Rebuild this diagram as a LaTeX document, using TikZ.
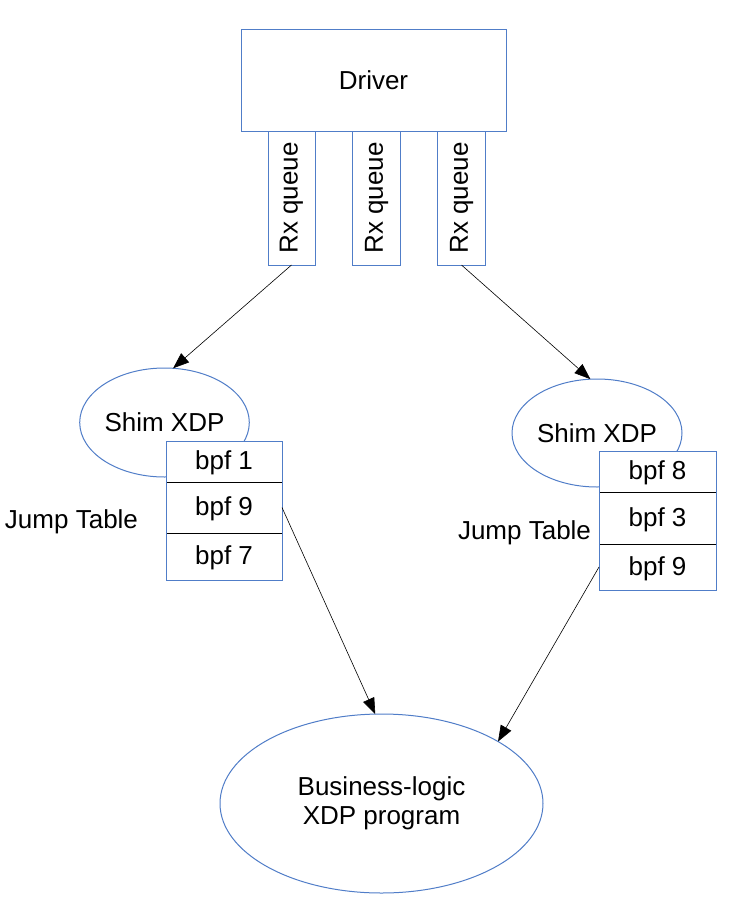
\documentclass[tikz,border=0pt]{standalone}
\usepackage{fontspec}
\setmainfont{Liberation Sans}
\usepackage{graphicx}
\usetikzlibrary{arrows.meta, shapes.geometric}
\definecolor{lineblue}{RGB}{80,125,200}
\begin{document}
\begin{tikzpicture}[
    x=1pt, y=-1pt,
    every node/.style={font=\fontsize{26}{29}\selectfont, inner sep=0pt, outer sep=0pt},
    box/.style={draw=lineblue, line width=1pt, fill=white, rectangle, align=center},
    oval/.style={draw=lineblue, line width=1pt, fill=white, ellipse, align=center},
    cell/.style={draw=black, line width=1pt, fill=white, rectangle, text depth=2pt},
    arrow/.style={-{Triangle[length=16pt,width=12pt]}, line width=0.6pt, black}
]
\useasboundingbox (0,0) rectangle (743,918);

% Driver e filas
\node[box, minimum width=265, minimum height=102] (driver) at (373.5,80) {Driver};
\node[box, minimum width=47, minimum height=134] (rxa) at (291.5,198) {\rotatebox{90}{Rx queue}};
\node[box, minimum width=48, minimum height=134] (rxb) at (376.5,198) {\rotatebox{90}{Rx queue}};
\node[box, minimum width=48, minimum height=134] (rxc) at (461.5,198) {\rotatebox{90}{Rx queue}};

% Shims
\node[oval, minimum width=169, minimum height=109] (shiml) at (164.5,422.5) {Shim XDP};
\node[oval, minimum width=170, minimum height=108] (shimr) at (597,433) {Shim XDP};

% Tabelas
\node[cell, minimum width=116, minimum height=41] (tla) at (224,461.5) {bpf 1};
\node[cell, minimum width=116, minimum height=51] (tlb) at (224,507.5) {bpf 9};
\node[cell, minimum width=116, minimum height=47] (tlc) at (224,556.5) {bpf 7};
\draw[lineblue, line width=1pt] (tla.north west) rectangle (tlc.south east);
\node[cell, minimum width=117, minimum height=41] (tra) at (657.5,471.5) {bpf 8};
\node[cell, minimum width=117, minimum height=52] (trb) at (657.5,518) {bpf 3};
\node[cell, minimum width=117, minimum height=46] (trc) at (657.5,567) {bpf 9};
\draw[lineblue, line width=1pt] (tra.north west) rectangle (trc.south east);
\node[anchor=west] (jtl) at (5,522) {Jump Table};
\node[anchor=west] (jtr) at (458,533) {Jump Table};

% Programa
\node[oval, minimum width=323, minimum height=179] (biz) at (381.5,803.5) {Business-logic\\XDP program};

% Ligacoes
\draw[arrow] (rxa.south) -- (shiml.81);
\draw[arrow] (rxc.south) -- (shimr.97);
\draw[arrow] (tlb.east) -- (biz.94);
\draw[arrow] (trc.west) -- (biz.28);

\end{tikzpicture}
\end{document}
